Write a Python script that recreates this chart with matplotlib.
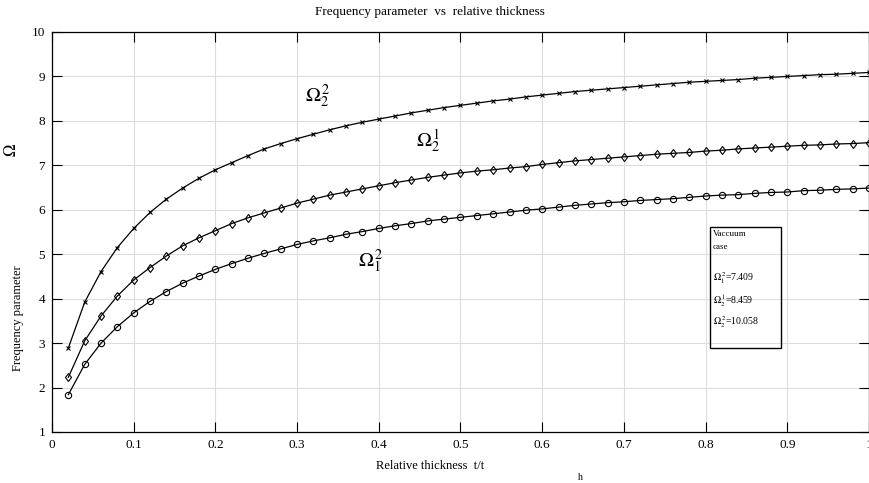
import matplotlib
matplotlib.use("Agg")
import matplotlib.pyplot as plt

plt.rcParams['font.family'] = ['Liberation Serif', 'DejaVu Serif']
plt.rcParams['mathtext.fontset'] = 'stix'

# t/th de 0.02 a 1.0
t_rel = [0.02, 0.04, 0.06, 0.08, 0.10, 0.12, 0.14, 0.16, 0.18, 0.20,
         0.22, 0.24, 0.26, 0.28, 0.30, 0.32, 0.34, 0.36, 0.38, 0.40,
         0.42, 0.44, 0.46, 0.48, 0.50, 0.52, 0.54, 0.56, 0.58, 0.60,
         0.62, 0.64, 0.66, 0.68, 0.70, 0.72, 0.74, 0.76, 0.78, 0.80,
         0.82, 0.84, 0.86, 0.88, 0.90, 0.92, 0.94, 0.96, 0.98, 1.00]

# Omega_2^2 (marqueur x)
om22 = [2.89, 3.92, 4.61, 5.15, 5.58, 5.94, 6.24, 6.49, 6.71, 6.90,
        7.06, 7.22, 7.37, 7.49, 7.60, 7.70, 7.80, 7.89, 7.97, 8.04,
        8.11, 8.18, 8.24, 8.30, 8.35, 8.40, 8.45, 8.49, 8.54, 8.58,
        8.62, 8.66, 8.69, 8.72, 8.75, 8.78, 8.81, 8.84, 8.87, 8.89,
        8.91, 8.93, 8.96, 8.98, 9.00, 9.02, 9.04, 9.05, 9.07, 9.09]

# Omega_2^1 (losange)
om21 = [2.23, 3.05, 3.61, 4.06, 4.42, 4.70, 4.96, 5.19, 5.37, 5.53,
        5.69, 5.82, 5.93, 6.04, 6.15, 6.24, 6.33, 6.40, 6.47, 6.54,
        6.61, 6.67, 6.73, 6.78, 6.83, 6.87, 6.90, 6.94, 6.97, 7.02,
        7.06, 7.10, 7.13, 7.16, 7.19, 7.22, 7.25, 7.27, 7.29, 7.32,
        7.34, 7.37, 7.39, 7.41, 7.43, 7.45, 7.46, 7.48, 7.49, 7.51]

# Omega_1^2 (cercle)
om12 = [1.84, 2.52, 3.00, 3.37, 3.68, 3.94, 4.16, 4.35, 4.51, 4.66,
        4.79, 4.91, 5.02, 5.12, 5.22, 5.30, 5.37, 5.45, 5.51, 5.58,
        5.64, 5.69, 5.75, 5.79, 5.83, 5.87, 5.91, 5.95, 5.99, 6.02,
        6.06, 6.10, 6.13, 6.16, 6.18, 6.21, 6.23, 6.25, 6.28, 6.31,
        6.33, 6.34, 6.37, 6.39, 6.40, 6.43, 6.44, 6.46, 6.47, 6.49]

xticks = [0, 0.1, 0.2, 0.3, 0.4, 0.5, 0.6, 0.7, 0.8, 0.9, 1]
xticklabels = ['0', '0.1', '0.2', '0.3', '0.4', '0.5', '0.6', '0.7', '0.8', '0.9', '1']
yticks = [1, 2, 3, 4, 5, 6, 7, 8, 9, 10]

fig = plt.figure(figsize=(8.7, 4.83), dpi=100)
ax = fig.add_axes([52/870, 1 - 432/483, 817/870, 400/483])

ax.plot(t_rel, om22, color='black', lw=0.9, marker='x', ms=2.5, mew=0.8)
ax.plot(t_rel, om21, color='black', lw=0.9, marker='d', ms=4.5, mfc='none', mew=0.8)
ax.plot(t_rel, om12, color='black', lw=0.9, marker='o', ms=4.5, mfc='none', mew=0.8)

ax.set_xlim(0, 1)
ax.set_ylim(1, 10)
ax.set_xticks(xticks)
ax.set_xticklabels(xticklabels)
ax.set_yticks(yticks)
ax.tick_params(direction='in', length=7, width=0.8, top=True, right=True,
               labelsize=9.5, pad=5)
ax.grid(True, color='#dddddd', lw=0.8)
ax.set_axisbelow(True)
for s in ax.spines.values():
    s.set_linewidth(0.9)

# labels des courbes
ax.text(0.326, 8.55, r'$\Omega_2^{\,2}$', fontsize=14.5, ha='center', va='center')
ax.text(0.46, 7.55, r'$\Omega_2^{\,1}$', fontsize=14.5, ha='center', va='center')
ax.text(0.39, 4.85, r'$\Omega_1^{\,2}$', fontsize=14.5, ha='center', va='center')

# boite "Vaccuum case"
box = plt.Rectangle((0.805, 2.89), 0.087, 2.72, fill=False, ec='black', lw=1.0)
ax.add_patch(box)
ax.text(0.809, 5.45, 'Vaccuum', fontsize=6.5, va='center')
ax.text(0.809, 5.16, 'case', fontsize=6.5, va='center')
ax.text(0.809, 4.46, r'$\Omega_1^{\,2}$=7.409', fontsize=7, va='center')
ax.text(0.809, 3.95, r'$\Omega_2^{\,1}$=8.459', fontsize=7, va='center')
ax.text(0.809, 3.47, r'$\Omega_2^{\,2}$=10.058', fontsize=7, va='center')

fig.text(430/870, 1 - 12/483, 'Frequency parameter  vs  relative thickness',
         fontsize=9.5, ha='center', va='center')
fig.text(430/870, 1 - 466/483, 'Relative thickness  t/t', fontsize=9,
         ha='center', va='center')
fig.text(580/870, 1 - 478/483, 'h', fontsize=7, ha='center', va='center')
fig.text(18/870, 1 - 318/483, 'Frequency parameter', fontsize=9,
         rotation=90, ha='center', va='center')
fig.text(12/870, 1 - 150/483, r'$\Omega$', fontsize=12, rotation=90,
         ha='center', va='center')

fig.savefig('out.png', dpi=100)
